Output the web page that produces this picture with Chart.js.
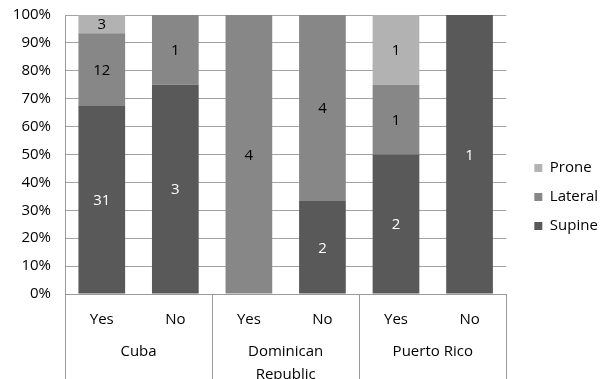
<!DOCTYPE html>
<html>
<head>
<meta charset="utf-8">
<script src="https://cdn.jsdelivr.net/npm/chart.js@4.4.0/dist/chart.umd.min.js"></script>
<style>
  html, body { margin: 0; padding: 0; background: #fff; }
  #wrap { width: 608px; height: 379px; }
</style>
</head>
<body>
<div id="wrap"><canvas id="chart"></canvas></div>
<script>
// answer under each country, two bars per country
const answers = ['Yes', 'No', 'Yes', 'No', 'Yes', 'No'];
const countries = ['Cuba', ['Dominican', 'Republic'], 'Puerto Rico'];

// counts per position
const supine = [31, 3, 0, 2, 2, 1];
const lateral = [12, 1, 4, 4, 1, 0];
const prone = [3, 0, 0, 0, 1, 0];

const yTicks = [0, 10, 20, 30, 40, 50, 60, 70, 80, 90, 100];

const totals = answers.map((a, i) => supine[i] + lateral[i] + prone[i]);
function toPct(arr) {
    return arr.map((v, i) => v / totals[i] * 100);
}

const FONT = {family: "'Open Sans', sans-serif", size: 15};

// counts written in the middle of each segment
const segmentLabels = {
    id: 'segmentLabels',
    afterDatasetsDraw(chart) {
        const ctx = chart.ctx;
        ctx.save();
        ctx.font = "15px 'Open Sans', sans-serif";
        ctx.textAlign = 'center';
        ctx.textBaseline = 'middle';
        chart.data.datasets.forEach((ds, di) => {
            chart.getDatasetMeta(di).data.forEach((bar, i) => {
                const n = ds.counts[i];
                if (!n) return;
                const c = bar.getCenterPoint();
                ctx.fillStyle = ds.labelColor;
                ctx.fillText(n, c.x, c.y + 1);
            });
        });
        ctx.restore();
    }
};

// vertical lines between country groups under the axis
const groupLines = {
    id: 'groupLines',
    afterDraw(chart) {
        const x = chart.scales.x;
        const ctx = chart.ctx;
        const w = (x.right - x.left) / answers.length;
        ctx.save();
        ctx.strokeStyle = '#9a9a9a';
        ctx.lineWidth = 1;
        for (let k = 0; k <= answers.length; k += 2) {
            const px = Math.round(x.left + k * w) + 0.5;
            ctx.beginPath();
            ctx.moveTo(px, chart.chartArea.bottom);
            ctx.lineTo(px, chart.height);
            ctx.stroke();
        }
        ctx.restore();
    }
};

new Chart(document.getElementById('chart'), {
    type: 'bar',
    data: {
        labels: answers,
        datasets: [{
            label: 'Supine',
            data: toPct(supine),
            counts: supine,
            labelColor: '#ffffff',
            backgroundColor: '#595959'
        }, {
            label: 'Lateral',
            data: toPct(lateral),
            counts: lateral,
            labelColor: '#000000',
            backgroundColor: '#878787'
        }, {
            label: 'Prone',
            data: toPct(prone),
            counts: prone,
            labelColor: '#000000',
            backgroundColor: '#b2b2b2'
        }]
    },
    options: {
        responsive: true,
        maintainAspectRatio: false,
        animation: false,
        barPercentage: 0.635,
        categoryPercentage: 1,
        layout: {padding: {top: 15, left: 0, right: 0, bottom: 0}},
        plugins: {
            legend: {
                position: 'right',
                reverse: true,
                labels: {
                    boxWidth: 8,
                    boxHeight: 8,
                    padding: 14,
                    color: '#000',
                    font: FONT
                }
            },
            tooltip: {enabled: false}
        },
        scales: {
            x: {
                stacked: true,
                position: 'bottom',
                clip: false,
                grid: {display: false},
                border: {color: '#9a9a9a'},
                ticks: {color: '#000', font: FONT, padding: 9, maxRotation: 0, autoSkip: false},
                afterFit: (s) => { s.height = 31; }
            },
            countries: {
                type: 'category',
                labels: countries,
                position: 'bottom',
                offset: true,
                clip: false,
                grid: {display: false},
                border: {display: false},
                ticks: {color: '#000', font: {family: FONT.family, size: 15, lineHeight: 1.55}, padding: 7, maxRotation: 0, autoSkip: false},
                afterFit: (s) => { s.height = 54; }
            },
            y: {
                stacked: true,
                min: 0,
                max: 100,
                afterBuildTicks: (s) => { s.ticks = yTicks.map(v => ({value: v})); },
                grid: {color: '#a3a3a3', drawTicks: false},
                border: {color: '#9a9a9a'},
                ticks: {
                    color: '#000',
                    font: FONT,
                    padding: 14,
                    callback: (v) => v + '%'
                },
                afterFit: (s) => {
                    s.width = 65;
                    // tick padding should not push the plot down
                    s.paddingTop = 0;
                    s.paddingBottom = 0;
                }
            },
            spacer: {
                position: 'right',
                grid: {display: false},
                border: {display: false},
                ticks: {display: false},
                afterFit: (s) => { s.width = 14; }
            }
        }
    },
    plugins: [segmentLabels, groupLines]
});
</script>
</body>
</html>
